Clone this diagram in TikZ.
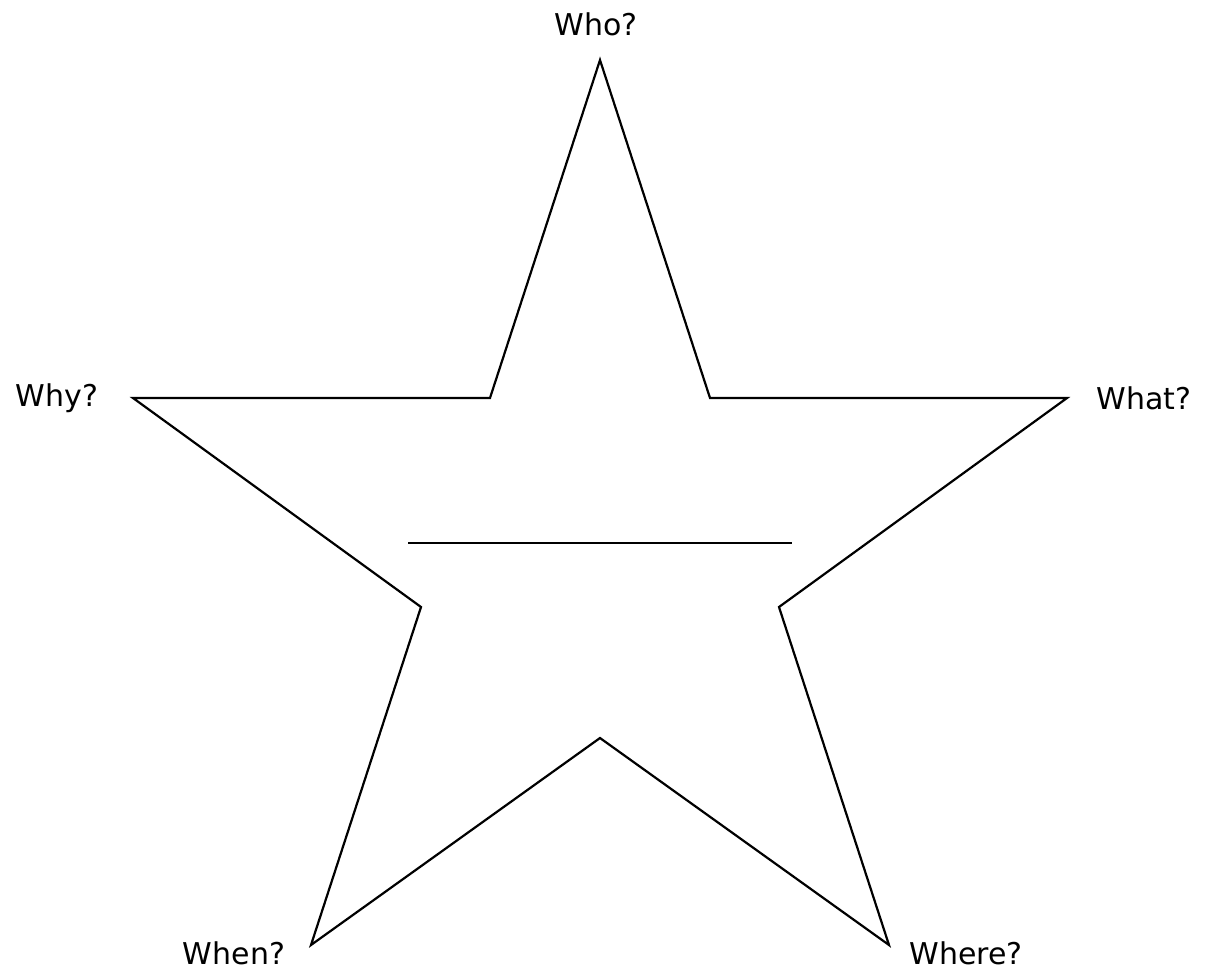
\documentclass[tikz,border=0pt]{standalone}
\usepackage{fontspec}
\setmainfont{DejaVu Sans}
\begin{document}
\begin{tikzpicture}[x=1pt,y=-1pt,
  starline/.style={draw=black,line width=2.2pt,line join=miter},
  lbl/.style={font=\fontsize{30}{32}\selectfont,inner sep=0pt}]
\useasboundingbox (0,0) rectangle (1211,975);
\coordinate (p1) at (600,60);
\coordinate (p2) at (710,398);
\coordinate (p3) at (1067,398);
\coordinate (p4) at (779,607);
\coordinate (p5) at (889,945);
\coordinate (p6) at (600,738);
\coordinate (p7) at (311,945);
\coordinate (p8) at (421,607);
\coordinate (p9) at (133,398);
\coordinate (p10) at (490,398);
\draw[starline] (p1)--(p2)--(p3)--(p4)--(p5)--(p6)--(p7)--(p8)--(p9)--(p10)--cycle;
\coordinate (la) at (408,543);
\coordinate (lb) at (792,543);
\draw[line width=2.2pt] (la)--(lb);
\node[lbl] (who) at (596,24) {Who?};
\node[lbl] (what) at (1144,398) {What?};
\node[lbl] (why) at (57,398) {Why?};
\node[lbl] (when) at (234,953) {When?};
\node[lbl] (where) at (966,953) {Where?};
\end{tikzpicture}
\end{document}
